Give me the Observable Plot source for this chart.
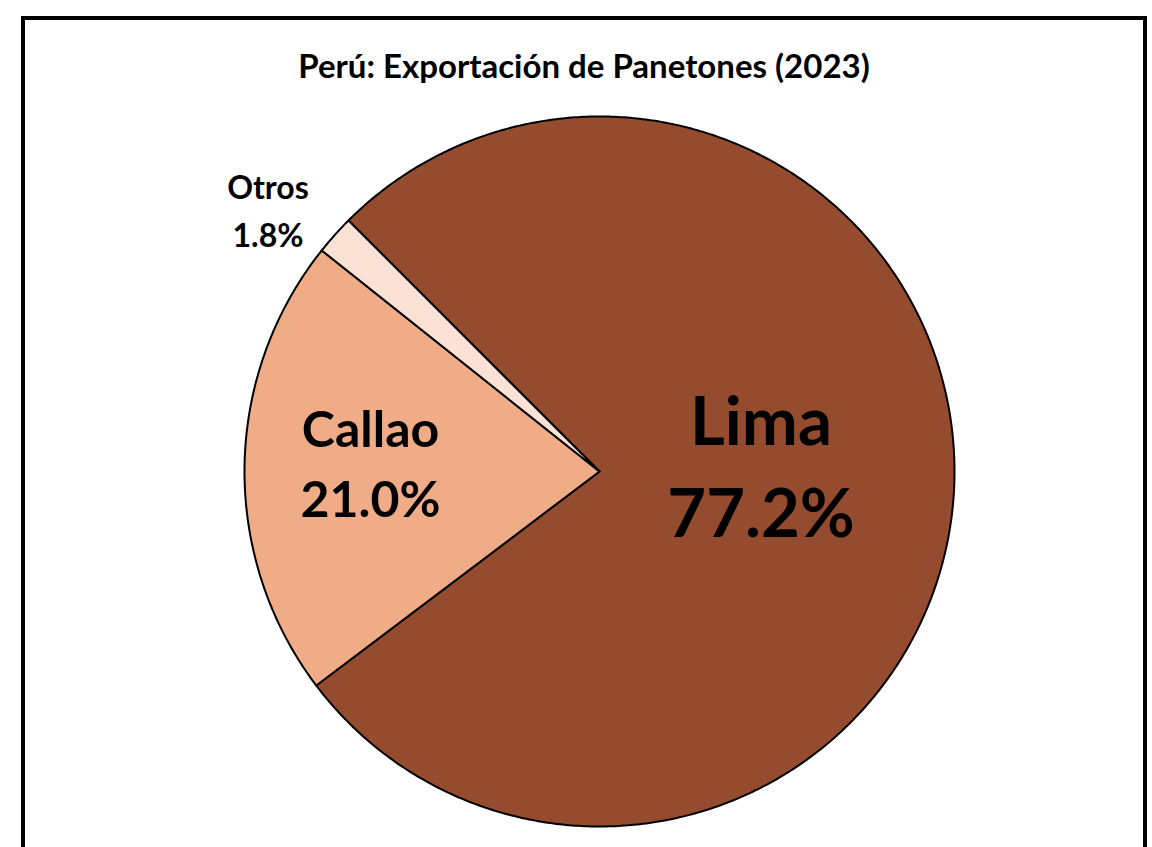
<!DOCTYPE html>
<html><head><meta charset="utf-8">
<script src="https://cdn.jsdelivr.net/npm/d3@7"></script>
<script src="https://cdn.jsdelivr.net/npm/@observablehq/plot@0.6"></script>
<style>
html,body{margin:0;padding:0;background:#fff;width:1152px;height:847px;overflow:hidden;font-family:Lato,"Open Sans",sans-serif;}
#frame{position:absolute;left:21px;top:16px;width:1126px;height:900px;box-sizing:border-box;border:4px solid #000;}
#title{position:absolute;left:21px;width:1126px;top:45px;text-align:center;font-weight:700;font-size:33px;line-height:40px;color:#000;}
#chart{position:absolute;left:0;top:0;}
</style></head><body>
<div id="frame"></div>
<div id="title">Perú: Exportación de Panetones (2023)</div>
<div id="chart"></div>
<script>
// ---- data ----
const categories = ["Lima", "Callao", "Otros"];
const shares = [77.2, 21.0, 1.8];
const percentLabels = ["77.2%", "21.0%", "1.8%"];
const sliceColors = ["#954B2E", "#F0AB87", "#FCE2D5"];

// ---- styles ----
const startDeg = -45; // first slice angle (clockwise from 12 o'clock)
const labelStyle = {
  Lima:   {r: 0.456, size: 67, lh: 1.373, dx: 0,   dy: -21},
  Callao: {r: 0.645, size: 50, lh: 1.4,   dx: 0,   dy: -9},
  Otros:  {r: 1.184, size: 32, lh: 1.5,   dx: -18, dy: 16.5}
};

const total = d3.sum(shares);
let acc = startDeg;
const slices = categories.map((name, i) => {
  const a0 = acc, a1 = acc + shares[i] / total * 360;
  acc = a1;
  return {name, value: shares[i], pct: percentLabels[i], a0, a1, mid: (a0 + a1) / 2};
});
const rad = d => d * Math.PI / 180;

// polygon outline of each slice in data space (unit circle)
const outline = [];
for (const s of slices) {
  outline.push({name: s.name, x: 0, y: 0});
  const n = Math.max(2, Math.ceil((s.a1 - s.a0) / 0.5));
  for (let k = 0; k <= n; k++) {
    const a = rad(s.a0 + (s.a1 - s.a0) * k / n);
    outline.push({name: s.name, x: Math.sin(a), y: Math.cos(a)});
  }
}

const labels = slices.map(s => {
  const st = labelStyle[s.name];
  return {...s, x: st.r * Math.sin(rad(s.mid)), y: st.r * Math.cos(rad(s.mid)), text: s.name + "\n" + s.pct};
});

const textMark = name => {
  const st = labelStyle[name];
  return Plot.text(labels.filter(d => d.name === name), {
    x: "x", y: "y", text: "text", fontSize: st.size, lineHeight: st.lh,
    fontWeight: "bold", fontFamily: "Lato", fill: "#000", dx: st.dx, dy: st.dy,
    textAnchor: "middle", lineAnchor: "middle"
  });
};

const chart = Plot.plot({
  width: 1152, height: 847,
  marginLeft: 244, marginRight: 1152 - 954, marginTop: 116, marginBottom: 847 - 826,
  x: {domain: [-1, 1], axis: null},
  y: {domain: [-1, 1], axis: null},
  color: {domain: categories, range: sliceColors},
  style: {background: "transparent", overflow: "visible"},
  marks: [
    Plot.line(outline, {x: "x", y: "y", z: "name", fill: "name", stroke: "#000", strokeWidth: 2,
      strokeLinejoin: "round", curve: "linear-closed"}),
    textMark("Lima"), textMark("Callao"), textMark("Otros")
  ]
});
document.getElementById("chart").appendChild(chart);
</script>
</body></html>
